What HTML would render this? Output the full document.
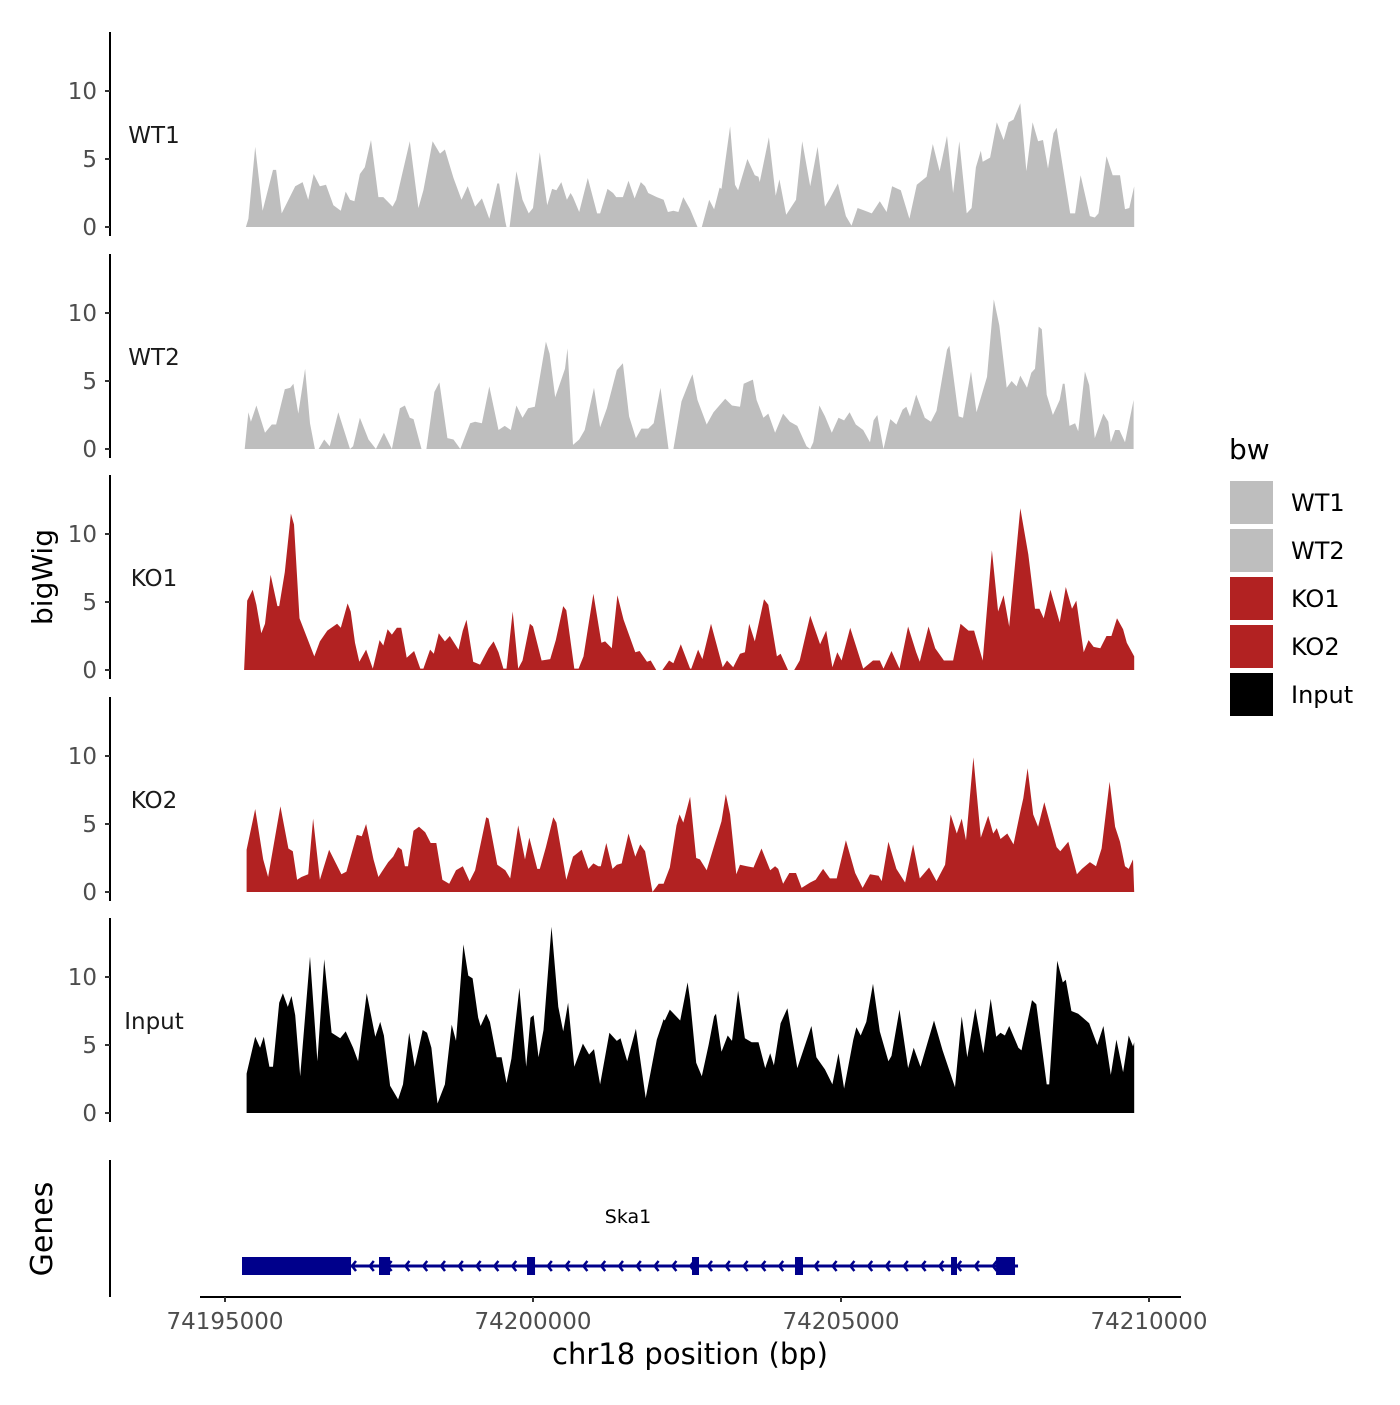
<!DOCTYPE html>
<html><head><meta charset="utf-8"><style>
html,body{margin:0;padding:0;background:#fff;}
svg text{font-family:"DejaVu Sans","Liberation Sans",sans-serif;}
</style></head><body>
<svg id="chart" width="1400" height="1400" viewBox="0 0 1400 1400" xmlns="http://www.w3.org/2000/svg">
<rect width="1400" height="1400" fill="#fff"/>
<g id="panels"></g>
<g id="genes"></g>
<g id="axes"></g>
<text x="52" y="577" font-size="28" text-anchor="middle" transform="rotate(-90 52 577)">bigWig</text>
<text x="52" y="1229" font-size="30" text-anchor="middle" transform="rotate(-90 52 1229)">Genes</text>
<text x="690" y="1364" font-size="29" text-anchor="middle">chr18 position (bp)</text>
<g>
<text x="1229" y="459" font-size="28">bw</text>
<g id="legend"></g>
</g>
</svg>
<script>
const chromStartBp = 74195000;
const wt1Pos=[0.34,0.38,0.49,0.61,0.78,0.83,0.92,1.14,1.22,1.26,1.35,1.44,1.54,1.64,1.76,1.88,1.96,2.03,2.10,2.19,2.27,2.37,2.49,2.57,2.72,2.78,3.00,3.14,3.22,3.37,3.49,3.57,3.71,3.84,3.94,4.06,4.17,4.29,4.42,4.45,4.55,4.57,4.62,4.73,4.83,4.93,5.00,5.11,5.23,5.31,5.38,5.46,5.55,5.61,5.65,5.75,5.89,6.04,6.09,6.21,6.30,6.35,6.46,6.55,6.65,6.75,6.82,6.87,7.01,7.12,7.19,7.28,7.36,7.44,7.55,7.67,7.74,7.86,7.94,8.03,8.06,8.20,8.28,8.33,8.48,8.60,8.66,8.68,8.83,8.94,9.00,9.11,9.27,9.37,9.50,9.62,9.74,9.82,9.95,10.08,10.17,10.27,10.39,10.50,10.63,10.74,10.83,10.97,11.11,11.23,11.39,11.49,11.60,11.72,11.82,11.92,12.04,12.12,12.19,12.27,12.30,12.42,12.53,12.64,12.72,12.80,12.91,13.01,13.11,13.20,13.28,13.36,13.45,13.50,13.72,13.80,13.89,14.04,14.12,14.18,14.31,14.41,14.48,14.53,14.61,14.68,14.76];
const wt1Val=[0,0.6,5.9,1.2,4.2,4.2,1.0,3.0,3.2,3.3,2.0,3.9,3.0,3.1,1.6,1.2,2.6,2.0,1.9,3.9,4.4,6.4,2.2,2.2,1.5,2.0,6.3,1.4,2.7,6.3,5.4,5.7,3.6,2.0,3.0,1.5,2.1,0.6,3.2,3.2,0.4,0,0,4.1,2.0,1.0,1.4,5.5,1.6,2.8,2.7,3.3,2.0,2.5,2.2,1.1,3.6,1.0,1.0,2.8,2.5,2.2,2.2,3.4,2.1,3.3,3.0,2.5,2.2,2.0,1.1,1.2,1.1,2.2,1.3,0,0,2.0,1.3,2.9,2.8,7.4,3.1,2.7,5.0,3.8,3.7,3.3,6.6,2.3,3.5,0.9,2.0,6.3,3.0,5.9,1.5,2.1,3.2,0.8,0.1,1.4,1.2,1.0,1.9,1.1,3.0,2.7,0.6,3.1,3.7,6.1,4.1,6.7,2.5,6.3,1.0,1.4,4.4,5.6,4.8,5.1,7.7,6.4,7.7,7.9,9.1,4.1,7.7,6.3,6.4,4.3,6.9,7.3,1.0,1.0,3.8,0.8,0.7,1.0,5.2,3.8,3.8,3.8,1.3,1.4,3.0];
const wt2Pos=[0.32,0.38,0.42,0.51,0.65,0.76,0.83,0.97,1.06,1.11,1.19,1.30,1.38,1.46,1.52,1.61,1.70,1.84,2.03,2.08,2.19,2.33,2.45,2.58,2.71,2.84,2.92,3.00,3.06,3.19,3.27,3.40,3.48,3.61,3.71,3.82,3.98,4.06,4.17,4.29,4.44,4.54,4.64,4.73,4.83,4.92,5.03,5.21,5.27,5.36,5.52,5.56,5.65,5.75,5.84,5.99,6.09,6.20,6.36,6.46,6.56,6.67,6.76,6.87,6.96,7.07,7.20,7.28,7.41,7.55,7.59,7.67,7.82,7.93,8.12,8.23,8.36,8.42,8.57,8.63,8.74,8.82,8.93,9.06,9.17,9.29,9.44,9.50,9.55,9.65,9.74,9.85,9.96,10.05,10.14,10.24,10.36,10.47,10.53,10.59,10.69,10.80,10.90,11.00,11.06,11.12,11.22,11.36,11.46,11.55,11.72,11.76,11.91,11.98,12.11,12.20,12.37,12.48,12.57,12.69,12.77,12.85,12.91,13.02,13.09,13.15,13.21,13.26,13.34,13.44,13.55,13.60,13.63,13.71,13.80,13.85,13.96,14.03,14.12,14.26,14.34,14.38,14.45,14.52,14.61,14.75];
const wt2Val=[0,2.7,2.0,3.2,1.2,1.8,1.8,4.4,4.5,4.8,2.6,5.9,1.9,0,0,0.7,0.2,2.7,0,0.2,2.3,0.7,0,1.2,0,3.0,3.2,2.3,2.2,0,0,4.2,4.9,0.8,0.7,0,1.9,2.0,1.9,4.6,1.4,1.7,1.4,3.2,2.3,3.0,3.1,7.9,7.0,3.8,5.9,7.4,0.3,0.7,1.4,4.5,1.6,3.0,5.8,6.3,2.4,0.8,1.5,1.5,1.9,4.5,0,0,3.5,5.1,5.5,3.6,1.8,2.7,3.7,3.2,3.1,4.8,5.1,3.6,2.3,2.6,1.2,2.6,2.0,1.7,0.2,0,0.5,3.2,2.4,1.2,2.3,2.1,2.7,1.8,1.4,0.5,2.1,2.5,0,2.2,1.8,2.9,3.1,2.4,4.0,2.3,2.0,2.8,7.3,7.6,2.4,2.3,5.7,2.7,5.3,11.0,9.1,4.5,5.0,4.6,5.4,4.5,5.6,5.9,9.0,8.8,4.0,2.5,3.6,4.8,4.8,1.7,1.9,1.3,5.7,4.7,0.8,2.6,2.0,0.5,1.4,1.4,0.5,3.6];
const ko1Pos=[0.31,0.36,0.45,0.51,0.59,0.65,0.74,0.85,0.88,0.97,1.07,1.12,1.21,1.45,1.54,1.66,1.82,1.88,1.99,2.04,2.11,2.18,2.29,2.40,2.51,2.57,2.64,2.71,2.79,2.86,2.95,3.07,3.17,3.22,3.33,3.39,3.47,3.57,3.65,3.79,3.86,3.92,4.03,4.14,4.28,4.36,4.44,4.52,4.57,4.67,4.76,4.83,4.95,5.00,5.14,5.28,5.37,5.49,5.54,5.67,5.74,5.82,5.98,6.11,6.17,6.28,6.37,6.47,6.66,6.73,6.85,6.91,7.00,7.10,7.21,7.28,7.40,7.55,7.57,7.68,7.75,7.89,8.08,8.15,8.25,8.36,8.44,8.51,8.60,8.75,8.82,8.96,9.02,9.14,9.24,9.33,9.50,9.66,9.76,9.86,9.94,10.01,10.15,10.36,10.52,10.63,10.69,10.82,10.95,11.09,11.22,11.28,11.42,11.53,11.67,11.82,11.94,12.07,12.16,12.30,12.45,12.55,12.64,12.73,12.91,13.04,13.15,13.22,13.29,13.40,13.55,13.65,13.75,13.82,13.94,14.02,14.10,14.21,14.31,14.39,14.48,14.58,14.64,14.76];
const ko1Val=[0,5.1,5.9,4.8,2.7,3.4,7.0,4.7,4.7,7.2,11.5,10.7,3.8,1.0,2.1,2.9,3.4,3.1,4.9,4.3,2.0,0.6,1.5,0.1,2.2,1.8,3.0,2.6,3.1,3.1,0.9,1.4,0.1,0.1,1.5,1.2,2.7,2.1,2.5,1.5,2.9,3.7,0.6,0.4,1.6,2.1,1.3,0.1,0.1,4.3,0.1,0.7,3.4,3.2,0.7,0.8,2.2,4.7,4.4,0.1,0.1,1.0,5.6,2.0,2.1,1.6,5.5,3.7,1.3,1.4,0.6,0.7,0,0,0.7,0.5,1.9,0.1,0.1,1.5,0.8,3.4,0.2,0.7,0.2,1.2,1.3,3.4,2.1,5.2,4.8,1.0,1.2,0,0,0.7,4.0,1.9,2.9,0.2,1.3,0.7,3.1,0.1,0.7,0.7,0.1,1.4,0.1,3.2,1.3,0.6,3.2,1.6,0.7,0.7,3.4,2.9,2.9,0.7,8.8,4.3,5.5,3.2,11.9,8.5,4.5,4.5,3.8,5.9,3.5,6.1,4.5,5.1,1.3,2.2,1.7,1.6,2.5,2.5,3.8,3.0,2.0,1.0];
const ko2Pos=[0.35,0.49,0.62,0.70,0.90,1.03,1.10,1.17,1.24,1.35,1.43,1.54,1.69,1.89,1.97,2.14,2.22,2.29,2.41,2.49,2.65,2.73,2.81,2.87,2.92,2.97,3.06,3.15,3.25,3.34,3.43,3.53,3.64,3.75,3.86,3.97,4.06,4.24,4.28,4.42,4.55,4.63,4.76,4.87,4.94,5.07,5.11,5.21,5.33,5.38,5.54,5.65,5.79,5.90,5.98,6.06,6.10,6.19,6.29,6.36,6.44,6.55,6.66,6.74,6.82,6.94,7.04,7.12,7.22,7.33,7.38,7.44,7.55,7.65,7.71,7.82,7.98,8.06,8.13,8.20,8.30,8.36,8.47,8.58,8.71,8.85,8.93,8.98,9.06,9.16,9.27,9.36,9.50,9.59,9.71,9.82,9.93,10.08,10.23,10.35,10.47,10.61,10.66,10.77,10.90,11.04,11.17,11.28,11.43,11.55,11.69,11.78,11.88,11.96,12.03,12.15,12.27,12.39,12.47,12.53,12.59,12.70,12.80,12.91,12.96,13.03,13.12,13.20,13.30,13.42,13.50,13.56,13.69,13.83,13.91,14.04,14.14,14.23,14.36,14.45,14.53,14.61,14.67,14.74,14.76];
const ko2Val=[3.1,6.1,2.4,1.1,6.3,3.2,3.0,0.9,1.1,1.3,5.4,0.9,3.1,1.3,1.5,4.2,4.1,5.0,2.4,1.1,2.2,2.6,3.3,3.1,1.9,1.9,4.5,4.8,4.4,3.6,3.6,0.9,0.6,1.6,1.9,0.8,1.6,5.5,5.4,2.0,1.6,1.0,4.9,2.4,4.0,1.7,1.7,3.3,5.5,5.1,0.9,2.6,3.1,1.7,2.1,1.9,1.9,3.6,1.7,2.0,2.1,4.3,2.6,3.5,3.0,0,0.6,0.6,1.8,4.9,5.7,5.1,7.0,2.5,2.4,1.6,4.0,5.2,7.2,5.7,1.3,2.0,1.9,1.8,3.2,1.6,1.9,1.7,0.6,1.4,1.4,0.3,0.7,0.9,1.7,1.0,1.0,3.8,1.4,0.3,1.3,1.2,0.8,3.7,1.7,0.7,3.5,1.0,1.8,0.8,2.0,5.7,4.3,5.4,3.8,9.9,4.0,5.6,4.3,4.7,3.9,4.3,3.5,5.9,6.9,9.1,5.7,4.8,6.6,4.6,3.3,3.0,3.7,1.3,1.7,2.2,1.9,3.2,8.1,4.8,3.7,1.9,1.7,2.4,0];
const inpPos=[0.35,0.49,0.57,0.63,0.72,0.78,0.88,0.94,1.02,1.08,1.14,1.22,1.38,1.50,1.61,1.73,1.87,1.96,2.08,2.16,2.30,2.44,2.52,2.58,2.68,2.81,2.89,2.99,3.08,3.21,3.28,3.35,3.45,3.57,3.68,3.75,3.87,3.95,4.02,4.11,4.15,4.24,4.30,4.41,4.49,4.57,4.65,4.78,4.89,4.96,5.01,5.09,5.17,5.30,5.41,5.49,5.57,5.67,5.81,5.91,5.99,6.09,6.24,6.36,6.42,6.53,6.67,6.83,7.01,7.12,7.14,7.22,7.39,7.51,7.55,7.65,7.74,7.85,7.94,7.97,8.06,8.16,8.23,8.33,8.44,8.55,8.66,8.77,8.85,8.91,9.02,9.13,9.29,9.38,9.52,9.60,9.74,9.86,9.96,10.05,10.20,10.25,10.32,10.41,10.52,10.63,10.77,10.82,10.95,11.09,11.18,11.29,11.51,11.65,11.85,11.96,12.05,12.18,12.31,12.43,12.52,12.59,12.66,12.73,12.88,12.93,13.10,13.17,13.34,13.38,13.51,13.60,13.65,13.74,13.85,14.03,14.16,14.26,14.38,14.47,14.58,14.67,14.74,14.76];
const inpVal=[2.9,5.6,4.8,5.6,3.4,3.4,8.1,8.8,7.8,8.6,7.2,2.7,11.5,3.8,11.3,5.9,5.5,6.0,4.8,3.8,8.8,5.6,6.7,5.7,2.0,1.0,2.1,5.9,3.4,6.1,5.9,4.8,0.7,2.1,6.5,5.3,12.4,10.1,9.9,7.0,6.4,7.3,6.7,4.1,4.1,2.2,4.0,9.2,3.4,7.0,7.2,4.1,6.1,13.7,7.8,6.0,8.1,3.4,5.1,4.3,4.7,2.1,5.9,5.3,5.5,3.8,6.2,1.1,5.4,6.9,6.8,7.6,6.8,9.6,8.3,3.7,2.7,5.0,7.1,7.3,4.5,5.7,5.3,9.0,5.5,5.2,5.2,3.3,4.4,3.5,6.6,7.7,3.3,4.5,6.4,4.1,3.2,2.1,4.4,1.8,5.4,6.3,5.7,6.7,9.5,6.0,3.8,4.2,7.6,3.3,4.8,3.4,6.8,4.6,1.9,7.1,4.1,7.7,4.4,8.4,5.6,5.9,5.7,6.4,4.8,4.6,8.3,8.0,2.1,2.1,11.2,9.6,9.8,7.5,7.3,6.6,5.0,6.4,2.8,5.4,3.0,5.7,4.9,5.2];
const sampleNames=["WT1","WT2","KO1","KO2","Input"];
const yTicks=[0,5,10];
const xTicks=[74195000,74200000,74205000,74210000];
const geneName="Ska1";
const geneStartBp=74195276, geneEndBp=74207874;
const exonStartBp=[74195276,74197500,74199903,74202581,74204253,74206786,74207517];
const exonEndBp=[74197046,74197679,74200033,74202695,74204383,74206883,74207825];

const NS="http://www.w3.org/2000/svg";
function mk(tag,attrs,parent){const e=document.createElementNS(NS,tag);for(const k in attrs)e.setAttribute(k,attrs[k]);parent.appendChild(e);return e;}
const xScale=bp=>225+(bp-74195000)*308/5000;
const posToX=kb=>xScale(chromStartBp+kb*1000);
const bases=[227,449,670,892,1113];
const unit=13.6;
const yScale=(i,v)=>bases[i]-v*unit;
const colors=["#bebebe","#bebebe","#b22222","#b22222","#000000"];
const series=[[wt1Pos,wt1Val],[wt2Pos,wt2Val],[ko1Pos,ko1Val],[ko2Pos,ko2Val],[inpPos,inpVal]];
const panels=document.getElementById('panels');
series.forEach((s,i)=>{
  const [p,v]=s;
  let d="M"+posToX(p[0]).toFixed(1)+","+bases[i];
  for(let k=0;k<p.length;k++) d+=" L"+posToX(p[k]).toFixed(1)+","+yScale(i,v[k]).toFixed(1);
  d+=" L"+posToX(p[p.length-1]).toFixed(1)+","+bases[i]+" Z";
  const path=mk('path',{d:d,fill:colors[i]},panels);
  
  
  const axis=mk('line',{x1:110,x2:110,y1:bases[i]-195,y2:bases[i]+9,stroke:"#000","stroke-width":2},panels);
  
  
  yTicks.forEach(t=>{
    const y=yScale(i,t);
    const tk=mk('line',{x1:105,x2:110,y1:y,y2:y,stroke:"#333","stroke-width":2},panels);
    
    
    const tl=mk('text',{x:97,y:y+8,"font-size":23,"text-anchor":"end",fill:"#4d4d4d"},panels);
    tl.textContent=t;
    
    
  });
  const lab=mk('text',{x:154,y:bases[i]-84,"font-size":23,"text-anchor":"middle",fill:"#1a1a1a"},panels);
  lab.textContent=sampleNames[i];
  
  
});
const g=document.getElementById('genes');
const gy=1266;
const gl=mk('line',{x1:xScale(geneStartBp),x2:xScale(geneEndBp),y1:gy,y2:gy,stroke:"#00008b","stroke-width":3},g);


for(let x=xScale(geneStartBp)+110;x<xScale(geneEndBp)-10;x+=17.8){
  const ch=mk('path',{d:`M${x+4},${gy-5} L${x},${gy} L${x+4},${gy+5}`,fill:"none",stroke:"#00008b","stroke-width":2.5},g);
  
  
}
exonStartBp.forEach((s,k)=>{
  const x1=xScale(s),x2=xScale(exonEndBp[k]);
  const r=mk('rect',{x:x1,y:gy-9,width:Math.max(x2-x1,5),height:18,fill:"#00008b"},g);
  
  
});
const gn=mk('text',{x:628,y:1223,"font-size":19,"text-anchor":"middle",fill:"#000"},g);
gn.textContent=geneName;


const ga=mk('line',{x1:110,x2:110,y1:1160,y2:1297,stroke:"#000","stroke-width":2},g);


const ax=document.getElementById('axes');
const xl=mk('line',{x1:200,x2:1181,y1:1297,y2:1297,stroke:"#000","stroke-width":2},ax);


xTicks.forEach(t=>{
  const x=xScale(t);
  const tk=mk('line',{x1:x,x2:x,y1:1297,y2:1302,stroke:"#333","stroke-width":2},ax);
  
  
  const tl=mk('text',{x:x,y:1329,"font-size":23,"text-anchor":"middle",fill:"#4d4d4d"},ax);
  tl.textContent=t;
  
  
});
const lg=document.getElementById('legend');
sampleNames.forEach((n,k)=>{
  const y=481+k*48;
  const r=mk('rect',{x:1230,y:y,width:43,height:43,fill:colors[k]},lg);
  
  
  const t=mk('text',{x:1291,y:y+30,"font-size":24,fill:"#000"},lg);
  t.textContent=n;
  
  
});
</script>
</body></html>
